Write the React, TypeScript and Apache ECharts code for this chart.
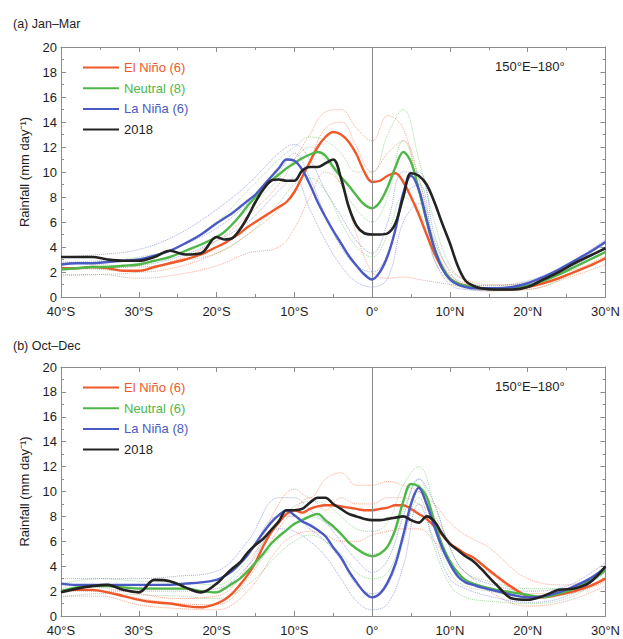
import React, { useEffect, useRef } from "react";
import * as echarts from "echarts";

// Latitudes (negative = south)
const LAT = [-40,-38,-36,-34,-32,-30,-28,-26,-24,-22,-20,-19,-18,-17,-16,-15,-14,-13,-12,-11,-10,-9,-8,-7,-6,-5,-4,-3,-2,-1,0,1,2,3,4,5,6,7,8,9,10,11,12,13,14,16,18,20,22,24,26,28,30];

// (a) Jan–Mar composites
const A_ELNINO = [2.3,2.3,2.4,2.3,2.1,2.1,2.4,2.7,3.0,3.4, 4.0,4.3,4.7,5.1,5.6,6.0,6.4,6.8,7.2,7.6, 8.4,9.6,10.8,12.0,12.8,13.2,13.0,12.4,11.4,10.0, 9.2,9.3,9.7,9.9,9.2,8.0,6.6,5.0,3.5,2.3, 1.5,1.1,0.9,0.8,0.7, 0.6,0.6,0.8,1.1,1.5,2.0,2.5,3.1];
const A_NEUTRAL = [2.2,2.3,2.4,2.4,2.5,2.6,2.9,3.2,3.7,4.2, 4.8,5.2,5.8,6.5,7.3,8.0,8.7,9.3,9.8,10.3, 10.7,11.1,11.4,11.6,11.3,10.4,9.6,8.9,8.1,7.4, 7.1,7.6,8.8,10.4,11.6,10.8,8.6,6.1,3.9,2.4, 1.5,1.1,0.9,0.8,0.7, 0.6,0.7,0.9,1.3,1.8,2.4,3.0,3.6];
const A_LANINA = [2.6,2.7,2.7,2.8,2.9,3.0,3.3,3.7,4.3,5.0, 5.9,6.3,6.7,7.2,7.7,8.2,8.9,9.6,10.3,11.0, 10.9,10.2,9.0,7.6,6.4,5.3,4.3,3.3,2.5,1.8, 1.4,2.0,3.3,5.4,8.3,9.7,8.6,6.2,3.9,2.3, 1.4,1.0,0.8,0.7,0.7, 0.7,0.8,1.1,1.6,2.2,2.9,3.6,4.4];
const A_2018 = [3.2,3.2,3.2,3.0,2.9,2.9,3.2,3.7,3.4,3.5, 4.8,4.6,4.7,5.4,6.4,7.6,8.6,9.3,9.4,9.3, 9.3,10.1,10.4,10.4,10.7,11.0,9.5,7.2,5.7,5.1, 5.0,5.0,5.1,5.9,8.0,9.9,9.7,9.0,7.6,5.9, 4.3,2.5,1.3,0.9,0.7, 0.6,0.6,0.8,1.4,2.0,2.7,3.3,3.9];

// (b) Oct–Dec composites
const B_ELNINO = [2.0,2.1,2.1,1.9,1.6,1.3,1.1,1.0,0.8,0.7, 1.0,1.3,1.8,2.5,3.3,4.3,5.6,6.7,7.5,8.2, 8.5,8.3,8.6,8.8,8.9,8.9,8.8,8.7,8.6,8.5, 8.5,8.6,8.7,8.9,8.9,8.6,8.2,7.8,7.2,6.5, 5.8,5.4,5.0,4.7,4.2, 3.2,2.3,1.6,1.5,1.7,2.0,2.4,3.0];
const B_NEUTRAL = [2.0,2.3,2.4,2.4,2.3,2.2,2.2,2.2,2.2,2.0, 1.9,2.2,2.6,3.0,3.6,4.3,5.0,5.8,6.4,6.9, 7.4,7.7,8.0,8.2,7.7,7.2,6.6,5.9,5.4,5.0, 4.8,5.0,5.6,7.0,9.2,10.6,10.4,9.6,7.6,5.7, 4.4,3.5,2.9,2.6,2.4, 2.1,1.9,1.7,1.5,1.8,2.2,2.8,3.7];
const B_LANINA = [2.6,2.5,2.5,2.5,2.5,2.5,2.5,2.5,2.6,2.7, 2.9,3.2,3.6,4.2,4.9,5.8,6.7,7.5,8.1,8.5, 8.1,7.6,7.3,6.9,6.4,5.5,4.7,3.6,2.7,1.9, 1.5,1.8,2.7,4.2,6.5,9.0,10.3,9.0,7.2,5.5, 4.2,3.2,2.7,2.5,2.3, 2.0,1.7,1.5,1.6,1.9,2.4,3.0,3.9];
const B_2018 = [1.9,2.2,2.4,2.5,2.1,1.9,2.9,2.8,2.3,1.9, 2.6,3.2,3.8,4.3,5.1,5.7,6.2,6.9,7.6,8.5, 8.5,8.6,9.1,9.5,9.5,9.0,8.6,8.2,8.0,7.8, 7.7,7.7,7.8,7.9,8.0,7.7,7.5,8.0,7.6,6.6, 5.8,5.3,4.8,4.4,3.8, 2.5,1.4,1.3,1.6,2.1,2.2,2.7,4.0];

// Individual years (dotted), coarse latitudes
const LAT2 = [-40,-35,-30,-25,-20,-16,-12,-10,-8,-6,-4,-2,0,2,4,6,8,10,12,15,20,25,30];
const A_EN_HI = [2.8,2.6,2.4,3.0,4.5,6.5,9.0,11.0,13.0,14.8,15.0,13.5,12.5,14.5,13.5,8.5,4.5,2.2,1.4,1.0,1.0,2.0,3.0];
const A_EN_MID = [2.4,2.2,2.0,2.4,3.5,5.0,7.0,8.5,11.0,13.5,14.0,12.0,10.0,11.5,12.5,9.5,4.0,1.8,1.1,0.7,0.8,1.8,3.3];
const A_EN_LO = [1.8,1.8,1.5,1.8,2.5,3.5,4.0,5.5,8.0,10.0,9.0,5.0,2.0,1.5,1.6,1.4,1.2,1.0,0.8,0.5,0.6,1.5,2.6];
const A_NE_HI = [2.8,2.9,3.2,4.0,6.0,8.5,11.0,12.0,12.8,12.5,11.5,10.0,10.0,13.0,15.0,11.0,6.0,2.5,1.3,0.9,1.2,2.3,3.9];
const A_NE_MID = [2.3,2.4,2.7,3.4,4.8,7.0,9.5,11.0,12.0,11.0,9.0,7.0,6.0,8.0,12.5,9.5,4.5,1.6,0.9,0.7,0.9,2.0,3.6];
const A_NE_LO = [1.7,1.8,2.0,2.8,3.5,5.0,7.5,9.0,9.5,8.5,6.0,4.0,3.2,5.0,8.0,7.0,3.0,1.2,0.7,0.5,0.6,1.6,3.2];
const A_LN_HI = [3.2,3.4,3.8,5.0,7.0,9.0,11.5,12.2,11.0,8.5,6.5,4.5,3.5,6.0,10.0,10.0,5.0,2.0,1.0,0.9,1.3,2.6,4.6];
const A_LN_MID = [2.6,2.8,3.0,4.0,5.5,7.5,10.0,11.5,9.5,6.5,4.0,2.5,2.0,3.5,8.0,9.0,4.0,1.4,0.8,0.7,1.1,2.4,4.3];
const A_LN_LO = [2.2,2.3,2.5,3.2,4.5,6.0,8.5,9.5,7.0,4.5,2.5,1.2,0.8,1.5,6.0,7.5,3.0,1.0,0.6,0.5,0.9,2.2,4.0];
const B_EN_HI = [2.5,2.3,1.8,1.4,1.6,4.0,9.0,10.2,9.5,11.0,11.5,10.5,10.5,10.8,10.5,10.0,9.0,7.5,6.5,5.5,3.0,2.5,3.5];
const B_EN_MID = [2.0,2.0,1.4,1.0,0.9,3.0,7.0,8.5,9.5,8.5,9.5,9.0,9.0,9.5,9.5,9.0,8.0,6.0,5.0,3.5,1.8,1.8,2.8];
const B_EN_LO = [1.6,1.6,0.9,0.6,0.5,2.0,5.5,6.5,6.8,6.5,6.0,6.0,6.5,6.8,7.0,7.0,6.0,4.5,3.5,2.0,0.8,1.2,2.4];
const B_NE_HI = [2.6,3.0,2.8,2.7,2.5,4.5,7.5,8.8,9.2,9.0,8.0,7.0,6.8,7.5,10.5,12.0,9.0,5.5,3.5,2.8,2.2,2.2,4.0];
const B_NE_MID = [2.2,2.4,2.3,2.2,2.0,3.5,6.2,7.4,8.0,7.5,6.5,5.5,5.0,5.5,8.5,11.0,7.0,3.5,2.4,2.0,1.5,1.8,3.6];
const B_NE_LO = [1.5,1.8,1.7,1.6,1.4,2.5,5.0,6.0,6.5,6.0,5.0,3.5,3.0,3.5,6.5,9.5,5.5,2.5,1.5,1.2,1.0,1.4,3.2];
const B_LN_HI = [3.0,3.0,3.0,3.2,3.6,6.0,9.5,9.5,8.5,7.5,6.0,4.5,3.5,4.5,8.0,11.0,9.0,5.5,3.5,2.6,2.0,2.4,4.3];
const B_LN_MID = [2.5,2.5,2.5,2.6,2.9,5.0,8.0,8.0,7.0,6.0,4.5,2.5,1.8,2.5,6.0,10.0,7.0,4.0,2.8,2.1,1.5,2.0,3.9];
const B_LN_LO = [2.1,2.0,2.0,2.0,2.2,4.0,7.0,6.8,6.0,4.8,3.0,1.2,0.5,1.0,4.0,9.0,6.0,3.0,2.2,1.6,1.1,1.6,3.5];

const NAMES_A = ["El Niño (6)", "Neutral (8)", "La Niña (6)", "2018"];
const NAMES_B = ["El Niño (6)", "Neutral (6)", "La Niña (8)", "2018"];
const PANEL_TITLES = ["(a) Jan–Mar", "(b) Oct–Dec"];
const REGION_LABEL = "150°E–180°";
const Y_NAME = "Rainfall (mm day⁻¹)";

const C_EN = "#f0582a";
const C_NE = "#4fb748";
const C_LN = "#4a5ac4";
const C_18 = "#232323";
const FONT = "Liberation Sans, Arial, sans-serif";

function latLabel(v: number): string {
  if (v === 0) return "0°";
  return v < 0 ? `${-v}°S` : `${v}°N`;
}

function pairs(xs: number[], ys: number[]) {
  return xs.map((x, i) => [x, ys[i]]);
}

function meanLine(name: string, ys: number[], color: string, axis: number, width: number, z: number) {
  return {
    name,
    type: "line",
    xAxisIndex: axis,
    yAxisIndex: axis,
    data: pairs(LAT, ys),
    smooth: 0.35,
    symbol: "none",
    lineStyle: { color, width },
    itemStyle: { color },
    z,
  };
}

function memberLine(ys: number[], color: string, axis: number, withZero: boolean) {
  const s: any = {
    name: "member",
    type: "line",
    xAxisIndex: axis,
    yAxisIndex: axis,
    data: pairs(LAT2, ys),
    smooth: 0.4,
    symbol: "none",
    lineStyle: { color, width: 1, type: "dotted", opacity: 0.5 },
    z: 1,
    silent: true,
  };
  if (withZero) {
    s.markLine = {
      silent: true,
      symbol: "none",
      label: { show: false },
      lineStyle: { color: "#8a8a8a", width: 1, type: "solid", opacity: 1 },
      data: [{ xAxis: 0 }],
    };
  }
  return s;
}

export default function App() {
  const ref = useRef<HTMLDivElement>(null);
  useEffect(() => {
    if (!ref.current) return;
    const chart = echarts.init(ref.current, undefined, { renderer: "svg" });

    const gridTops = [47, 367];
    const gridHeights = [250, 249];
    const axisColor = "#8c8c8c";
    const line = { show: true, onZero: false, lineStyle: { color: axisColor } };
    const tick = { show: true, inside: true, length: 5, lineStyle: { color: axisColor } };
    const minor = { show: true, splitNumber: 2, length: 3, lineStyle: { color: axisColor } };

    const xAxes: any[] = [];
    const yAxes: any[] = [];
    [0, 1].forEach((g) => {
      xAxes.push({
        type: "value", gridIndex: g, min: -40, max: 30, interval: 10, position: "bottom",
        axisLine: line, axisTick: tick, minorTick: minor, splitLine: { show: false },
        axisLabel: { formatter: latLabel, fontSize: 13, color: "#1e1e1e", fontFamily: FONT, margin: 8 },
      });
      xAxes.push({
        type: "value", gridIndex: g, min: -40, max: 30, interval: 10, position: "top",
        axisLine: line, axisTick: tick, minorTick: minor, splitLine: { show: false },
        axisLabel: { show: false },
      });
      yAxes.push({
        type: "value", gridIndex: g, min: 0, max: 20, interval: 2, position: "left",
        name: Y_NAME, nameLocation: "middle", nameGap: 30,
        nameTextStyle: { fontSize: 13, color: "#1e1e1e", fontFamily: FONT },
        axisLine: line, axisTick: tick, minorTick: minor, splitLine: { show: false },
        axisLabel: { fontSize: 13, color: "#1e1e1e", fontFamily: FONT, margin: 4 },
      });
      yAxes.push({
        type: "value", gridIndex: g, min: 0, max: 20, interval: 2, position: "right",
        axisLine: line, axisTick: tick, minorTick: minor, splitLine: { show: false },
        axisLabel: { show: false },
      });
    });

    const panels = [
      { axis: 0, names: NAMES_A, means: [A_ELNINO, A_NEUTRAL, A_LANINA, A_2018],
        members: [[A_EN_HI, C_EN], [A_EN_MID, C_EN], [A_EN_LO, C_EN], [A_NE_HI, C_NE], [A_NE_MID, C_NE], [A_NE_LO, C_NE], [A_LN_HI, C_LN], [A_LN_MID, C_LN], [A_LN_LO, C_LN]] },
      { axis: 2, names: NAMES_B, means: [B_ELNINO, B_NEUTRAL, B_LANINA, B_2018],
        members: [[B_EN_HI, C_EN], [B_EN_MID, C_EN], [B_EN_LO, C_EN], [B_NE_HI, C_NE], [B_NE_MID, C_NE], [B_NE_LO, C_NE], [B_LN_HI, C_LN], [B_LN_MID, C_LN], [B_LN_LO, C_LN]] },
    ];
    const colors = [C_EN, C_NE, C_LN, C_18];

    const series: any[] = [];
    panels.forEach((p) => {
      p.members.forEach((m: any, i: number) => series.push(memberLine(m[0], m[1], p.axis, i === 0)));
      p.means.forEach((ys, i) =>
        series.push(meanLine(p.names[i], ys, colors[i], p.axis, i === 3 ? 2.6 : 2.4, 3 + i))
      );
    });

    const legendFor = (names: string[], top: number) => ({
      orient: "vertical", left: 78, top, itemWidth: 36, itemHeight: 14, itemGap: 7.7,
      selectedMode: false,
      data: names.map((n, i) => ({
        name: n, icon: "path://M0,6 L36,6 L36,8 L0,8 Z",
        itemStyle: { color: colors[i], opacity: 1 },
        textStyle: { color: colors[i], fontSize: 13, fontFamily: FONT },
      })),
    });

    chart.setOption({
      animation: false,
      backgroundColor: "#ffffff",
      title: PANEL_TITLES.map((t, i) => ({
        text: t, left: 8, top: i === 0 ? 12 : 334,
        textStyle: { fontSize: 12.5, fontWeight: "normal", color: "#1e1e1e", fontFamily: FONT },
      })),
      grid: [0, 1].map((g) => ({ left: 61, width: 546, top: gridTops[g], height: gridHeights[g], containLabel: false })),
      xAxis: xAxes,
      yAxis: yAxes,
      legend: [legendFor(NAMES_A, 56), legendFor(NAMES_B, 376)],
      graphic: [
        { type: "text", left: 495, top: 60, style: { text: REGION_LABEL, font: `13px ${FONT}`, fill: "#1e1e1e" } },
        { type: "text", left: 495, top: 380, style: { text: REGION_LABEL, font: `13px ${FONT}`, fill: "#1e1e1e" } },
      ],
      series,
    });
    return () => chart.dispose();
  }, []);
  return <div ref={ref} style={{ position: "fixed", left: 0, top: 0, width: 623, height: 639 }} />;
}
